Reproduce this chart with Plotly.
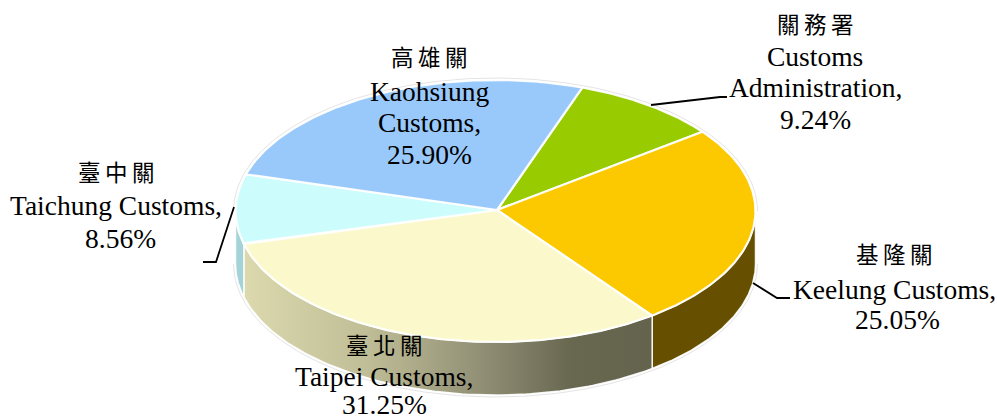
import numpy as np
import plotly.graph_objects as go

names_zh = ["關務署", "基隆關", "臺北關", "臺中關", "高雄關"]
names_en = [["Customs", "Administration,"], ["Keelung Customs,"], ["Taipei Customs,"],
            ["Taichung Customs,"], ["Kaohsiung", "Customs,"]]
values = [9.24, 25.05, 31.25, 8.56, 25.90]
top_colors = ["#99cc00", "#fcc900", "#fbf9cc", "#ccfcfc", "#99c9fb"]

CX, CY, RX, RY, DEPTH = 495.5, 211, 260, 131, 53
HUB_X, HUB_Y = 497, 210
START = 19.5

def pt(t_deg, dy=0, grow=0):
    t = np.radians(t_deg)
    return CX + (RX + grow) * np.sin(t), CY - (RY + grow) * np.cos(t) + dy

fig = go.Figure()

edges = START + np.concatenate([[0], np.cumsum(values)]) * 3.6
spans = list(zip(edges[:-1], edges[1:]))

# faint halo around the body
a = np.linspace(90, 270, 200)
hx, hy = pt(a, DEPTH, 2)
fig.add_trace(go.Scatter(x=hx, y=hy, mode="lines", line=dict(color="#e4e4e4", width=1), hoverinfo="skip"))
a = np.linspace(-90, 90, 200)
hx, hy = pt(a, 0, 2)
fig.add_trace(go.Scatter(x=hx, y=hy, mode="lines", line=dict(color="#e4e4e4", width=1), hoverinfo="skip"))

# side walls
def wall(a0, a1, **fill):
    a = np.linspace(a0, a1, 120)
    x0, y0 = pt(a)
    x1, y1 = pt(a[::-1], DEPTH)
    fig.add_trace(go.Scatter(x=np.r_[x0, x1, x0[0]], y=np.r_[y0, y1, y0[0]], mode="lines",
                             fill="toself", line=dict(color="rgba(255,255,255,0.9)", width=1.5),
                             hoverinfo="skip", **fill))

wall(max(spans[1][0], 90), spans[1][1], fillcolor="#665000")
wall(spans[2][0], spans[2][1],
     fillgradient=dict(type="horizontal",
                       colorscale=[[0, "#dcd9ae"], [0.3, "#c0be97"], [0.62, "#8a8970"], [0.8, "#68674f"], [1, "#64634d"]]))
wall(spans[3][0], 270, fillcolor="#a3d3d6")

# top faces
for (a0, a1), col in zip(spans, top_colors):
    a = np.linspace(a0, a1, 120)
    x, y = pt(a)
    fig.add_trace(go.Scatter(x=np.r_[HUB_X, x, HUB_X], y=np.r_[HUB_Y, y, HUB_Y], mode="lines", fill="toself",
                             fillcolor=col, line=dict(color="rgba(255,255,255,0.95)", width=2.2),
                             hoverinfo="skip"))

# labels
pcts = [f"{v:.2f}%" for v in values]
label_x = [815, 894, 384, 116, 429]
label_y = [[23, 56, 87, 119], [253, 289, 319], [344, 376, 404], [171, 205, 238], [56, 91, 122, 154]]
pct_dx = [0, 3, 0, 4, 0]
SERIF = "Liberation Serif"
CJK = "Noto Sans CJK TC"
for zh, en, pct, x, ys, dx in zip(names_zh, names_en, pcts, label_x, label_y, pct_dx):
    fig.add_annotation(x=x, y=ys[0], text="\u2009".join(zh), showarrow=False,
                       font=dict(family=CJK, size=22.5, color="#000"))
    for line, y in zip(en + [pct], ys[1:]):
        fig.add_annotation(x=x + (dx if line == pct else 0), y=y, text=line, showarrow=False,
                           font=dict(family=SERIF, size=27.5, color="#000"))

leaders = ["M651,105 L720,97 L727,97", "M753,283 L777,298 L790,298", "M234,207 L216,262 L203,262"]
shapes = [dict(type="path", path=p, xref="x", yref="y", line=dict(color="#000", width=1.8)) for p in leaders]

fig.update_layout(
    width=997, height=420, margin=dict(l=0, r=0, t=0, b=0),
    paper_bgcolor="white", plot_bgcolor="white", showlegend=False, shapes=shapes,
    xaxis=dict(range=[0, 997], visible=False, fixedrange=True),
    yaxis=dict(range=[420, 0], visible=False, fixedrange=True),
)
fig.write_html("out.html", config=dict(displayModeBar=False),
               post_script="document.body.style.margin='0';document.documentElement.style.overflow='hidden';")
